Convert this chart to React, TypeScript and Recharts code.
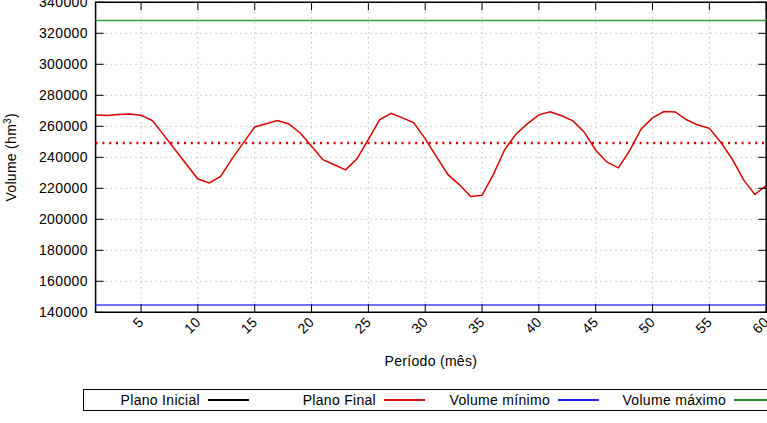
import React from 'react';
import { LineChart, Line, XAxis, YAxis, CartesianGrid, ReferenceLine, ReferenceArea, Label } from 'recharts';

// ---- data ----
const months: number[] = [
  1, 2, 3, 4, 5, 6, 7, 8, 9, 10, 11, 12, 13, 14, 15, 16, 17, 18, 19, 20,
  21, 22, 23, 24, 25, 26, 27, 28, 29, 30, 31, 32, 33, 34, 35, 36, 37, 38, 39, 40,
  41, 42, 43, 44, 45, 46, 47, 48, 49, 50, 51, 52, 53, 54, 55, 56, 57, 58, 59, 60,
];
const planoFinal: number[] = [
  267300, 266900, 267600, 268000, 267100, 263700, 254300, 244900, 235400, 226000,
  223500, 227700, 239000, 249300, 259600, 261700, 263700, 261500, 255700, 247100,
  238500, 235200, 231900, 239000, 251600, 264300, 268400, 265400, 262200, 251900,
  240300, 228800, 222400, 214700, 215500, 229000, 245000, 255100, 261700, 267400,
  269300, 266800, 263500, 256200, 244600, 236800, 233200, 244500, 258300, 265400,
  269500, 269300, 264200, 260800, 258700, 249700, 239000, 225600, 216000, 221700,
];
const volumeMinimo = 144700;
const volumeMaximo = 328300;
const volumeMeta = 249300;
const xTicks: number[] = [5, 10, 15, 20, 25, 30, 35, 40, 45, 50, 55, 60];
const yTicks: number[] = [140000, 160000, 180000, 200000, 220000, 240000, 260000, 280000, 300000, 320000, 340000];
const legendItems = [
  { name: 'Plano Inicial', color: '#000000' },
  { name: 'Plano Final', color: '#e01010' },
  { name: 'Volume mínimo', color: '#2020e8' },
  { name: 'Volume máximo', color: '#209020' },
];

const data = months.map((m, i) => ({ month: m, final: planoFinal[i] }));

// ---- layout ----
const CHART_W = 800;
const CHART_H = 423;
const PLOT_LEFT = 95.6;
const PLOT_RIGHT = 766.2;
const PLOT_TOP = 2.3;
const PLOT_BOTTOM = 312.3;
const XAXIS_H = 40;
const FONT = '"Liberation Sans", Arial, Helvetica, sans-serif';
const TICK_LEN = 8;
const LEGEND_COL_W = [165, 176, 174, 176];

const XTick = (props: any) => {
  const { x, payload } = props;
  const ax = x + 3.5;
  const ay = 323;
  return (
    <g>
      <line x1={x} x2={x} y1={PLOT_BOTTOM} y2={PLOT_BOTTOM - TICK_LEN} stroke="#000" strokeWidth={1} />
      <line x1={x} x2={x} y1={PLOT_TOP} y2={PLOT_TOP + TICK_LEN} stroke="#000" strokeWidth={1} />
      <text
        x={ax}
        y={ay}
        textAnchor="end"
        transform={`rotate(-45 ${ax} ${ay})`}
        fontFamily={FONT}
        fontSize={14}
        letterSpacing={0.3}
        fill="#000"
      >
        {payload.value}
      </text>
    </g>
  );
};

const YTick = (props: any) => {
  const { y, payload } = props;
  return (
    <g>
      <line x1={PLOT_LEFT} x2={PLOT_LEFT + TICK_LEN} y1={y} y2={y} stroke="#000" strokeWidth={1} />
      <line x1={PLOT_RIGHT - TICK_LEN} x2={PLOT_RIGHT} y1={y} y2={y} stroke="#000" strokeWidth={1} />
      <text
        x={88}
        y={y}
        dy="0.36em"
        textAnchor="end"
        fontFamily={FONT}
        fontSize={14}
        letterSpacing={0.4}
        fill="#000"
      >
        {payload.value}
      </text>
    </g>
  );
};

const XLabel = (props: any) => {
  const vb = props.viewBox || {};
  const cx = (vb.x ?? PLOT_LEFT) + (vb.width ?? PLOT_RIGHT - PLOT_LEFT) / 2;
  return (
    <text x={cx} y={366} textAnchor="middle" fontFamily={FONT} fontSize={14} letterSpacing={0.3} fill="#000">
      Período (mês)
    </text>
  );
};

const YLabel = (props: any) => {
  const vb = props.viewBox || {};
  const cy = (vb.y ?? PLOT_TOP) + (vb.height ?? PLOT_BOTTOM - PLOT_TOP) / 2;
  const lx = 16.5;
  return (
    <text
      x={lx}
      y={cy}
      textAnchor="middle"
      transform={`rotate(-90 ${lx} ${cy})`}
      fontFamily={FONT}
      fontSize={14}
      letterSpacing={0.3}
      fill="#000"
    >
      Volume (hm
      <tspan dy={-5} fontSize={10}>3</tspan>
      <tspan dy={5}>)</tspan>
    </text>
  );
};

const LegendBox = () => (
  <div
    style={{
      position: 'absolute',
      left: 83,
      top: 389,
      width: 720,
      height: 22,
      boxSizing: 'border-box',
      border: '1px solid #000',
      display: 'flex',
      alignItems: 'center',
      fontFamily: FONT,
      fontSize: 14,
      letterSpacing: 0.3,
      color: '#000',
      background: '#fff',
    }}
  >
    {legendItems.map((it, i) => (
      <div
        key={it.name}
        style={{
          width: LEGEND_COL_W[i],
          flex: 'none',
          display: 'flex',
          justifyContent: 'flex-end',
          alignItems: 'center',
        }}
      >
        <span style={{ display: 'inline-block', whiteSpace: 'nowrap', lineHeight: '20px' }}>{it.name}</span>
        <span
          style={{
            display: 'inline-block',
            width: 41,
            height: 1.3,
            background: it.color,
            marginLeft: 8,
          }}
        />
      </div>
    ))}
  </div>
);

export default function App() {
  return (
    <div
      style={{
        position: 'absolute',
        left: 0,
        top: 0,
        width: 767,
        height: 423,
        overflow: 'hidden',
        background: '#fff',
      }}
    >
      <LineChart
        width={CHART_W}
        height={CHART_H}
        data={data}
        margin={{ top: PLOT_TOP, right: CHART_W - PLOT_RIGHT, bottom: CHART_H - PLOT_BOTTOM - XAXIS_H, left: 0 }}
      >
        <CartesianGrid stroke="#a0a0a0" strokeDasharray="1 4" strokeWidth={1} />
        <XAxis
          type="number"
          dataKey="month"
          domain={[1, 60]}
          ticks={xTicks}
          interval={0}
          allowDataOverflow
          height={XAXIS_H}
          axisLine={false}
          tickLine={false}
          tick={<XTick />}
          label={<Label content={<XLabel />} />}
        />
        <YAxis
          type="number"
          domain={[140000, 340000]}
          ticks={yTicks}
          interval={0}
          allowDataOverflow
          width={PLOT_LEFT}
          axisLine={false}
          tickLine={false}
          tick={<YTick />}
          label={<Label content={<YLabel />} />}
        />
        <ReferenceLine y={volumeMaximo} stroke="#3a9e3a" strokeWidth={1.5} ifOverflow="visible" />
        <ReferenceLine y={volumeMinimo} stroke="#4040ff" strokeWidth={1.5} ifOverflow="visible" />
        <ReferenceLine y={volumeMeta} stroke="#d00000" strokeWidth={2.5} strokeDasharray="2 4.8" ifOverflow="visible" />
        <Line
          type="linear"
          dataKey="final"
          stroke="#d80000"
          strokeWidth={1.5}
          dot={false}
          isAnimationActive={false}
        />
        <ReferenceArea
          x1={1}
          x2={60}
          y1={140000}
          y2={340000}
          fill="none"
          stroke="#000"
          strokeWidth={1.5}
          ifOverflow="visible"
        />
      </LineChart>
      <LegendBox />
    </div>
  );
}
